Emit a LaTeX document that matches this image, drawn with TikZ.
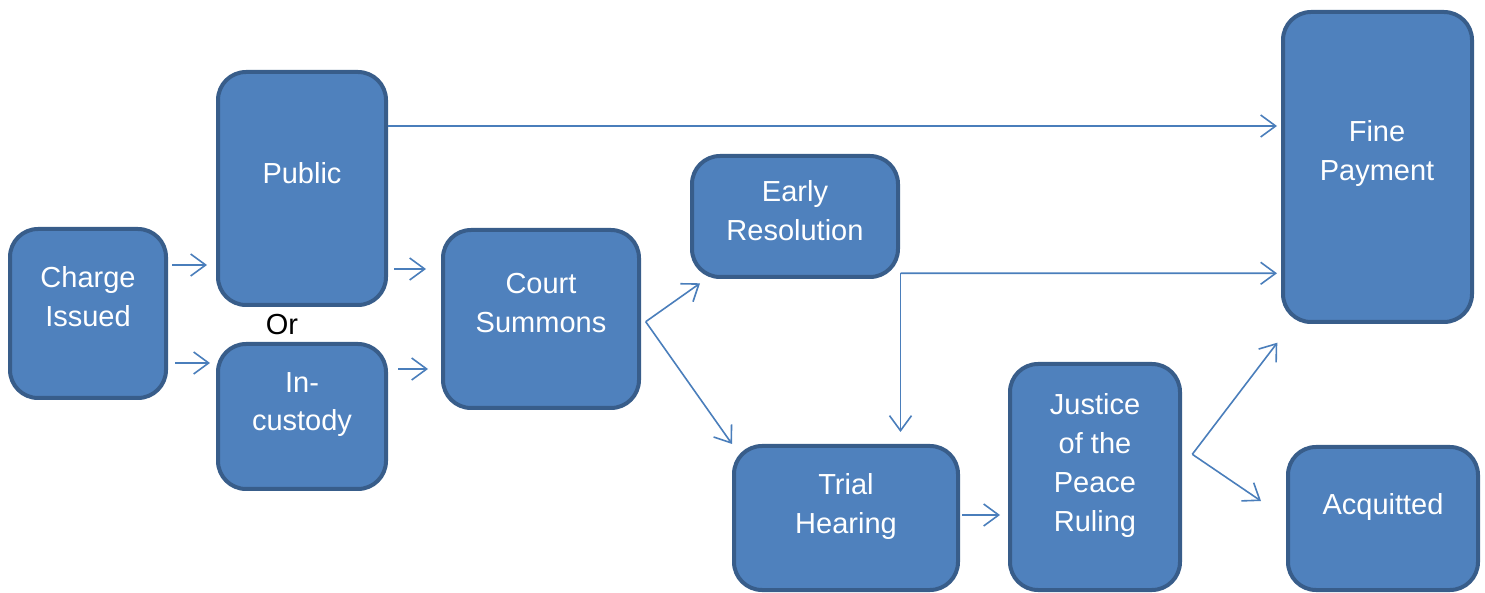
\documentclass[tikz,border=0pt]{standalone}
\usepackage{fontspec}
\setmainfont{Liberation Sans}
\usetikzlibrary{arrows.meta}
\definecolor{boxfill}{HTML}{4F81BD}
\definecolor{boxline}{HTML}{385D8A}
\definecolor{flowline}{HTML}{4A7EBB}

\begin{document}
\begin{tikzpicture}[x=0.5pt,y=-0.5pt,line join=bevel,
  box/.style={draw=boxline,fill=boxfill,line width=2pt,rounded corners=14pt,inner sep=0pt},
  boxtext/.style={text=white,align=center,anchor=base,font=\fontsize{14.5}{19.5}\selectfont},
  flow/.style={draw=flowline,line width=0.8pt,-{Straight Barb[length=7.5pt,width=11pt]}},]
%%
\useasboundingbox (0,0) rectangle (1485,593);
\node (node_charge) at (88,313.5) [box,minimum width=78pt,minimum height=84.5pt] {};
  \node (node_public) at (302,188.5) [box,minimum width=84pt,minimum height=116.5pt] {};
  \node (node_incustody) at (302,416.5) [box,minimum width=84pt,minimum height=72.5pt] {};
  \node (node_court) at (541,319) [box,minimum width=98pt,minimum height=89pt] {};
  \node (node_early) at (795,216.5) [box,minimum width=103pt,minimum height=60.5pt] {};
  \node (node_trial) at (846,518) [box,minimum width=112pt,minimum height=72pt] {};
  \node (node_justice) at (1095,477) [box,minimum width=85pt,minimum height=113pt] {};
  \node (node_fine) at (1377.5,167) [box,minimum width=94.5pt,minimum height=155pt] {};
  \node (node_acquitted) at (1383,518.5) [box,minimum width=95pt,minimum height=71.5pt] {};
%
  \node (text_charge) at (88,327) [boxtext] {Charge\\Issued};
  \node (text_public) at (302,184) [boxtext] {Public};
  \node (text_incustody) at (302,431) [boxtext] {In-\\custody};
  \node (text_court) at (541,333) [boxtext] {Court\\Summons};
  \node (text_early) at (795,241) [boxtext] {Early\\Resolution};
  \node (text_trial) at (846,533) [boxtext] {Trial\\Hearing};
  \node (text_justice) at (1095,531) [boxtext] {Justice\\of the\\Peace\\Ruling};
  \node (text_fine) at (1377,181) [boxtext] {Fine\\Payment};
  \node (text_acquitted) at (1383,515) [boxtext] {Acquitted};
  \node (text_or) at (282,335) [boxtext,text=black] {Or};
%
  \coordinate (split_court) at ([shift={(4.7,2.7)}]node_court.east);
  \coordinate (split_early) at ([shift={(0.5,-5.7)}]node_early.south east);
  \coordinate (split_justice) at ([shift={(10.3,-22.7)}]node_justice.east);
%
  \draw [flow] ([shift={(4,-48.5)}]node_charge.east) -- ([shift={(-9,76.5)}]node_public.west);
  \draw [flow] ([shift={(7,49.5)}]node_charge.east) -- ([shift={(-6,-53.5)}]node_incustody.west);
  \draw [flow] ([shift={(6,80.5)}]node_public.east) -- ([shift={(-15,-50)}]node_court.west);
  \draw [flow] ([shift={(10,-47.5)}]node_incustody.east) -- ([shift={(-13,50)}]node_court.west);
  \draw [flow] ([shift={(0,-62.5)}]node_public.east) -- ([shift={(-4,-41)}]node_fine.west);
  \draw [flow] (split_court) -- ([shift={(10,4.3)}]node_early.south west);
  \draw [flow] (split_court) -- (node_trial.north west);
  \draw [flow] (split_early) -- ([shift={(-4,106.3)}]node_fine.west);
  \draw [flow] (split_early) -- ([shift={(54.5,-12)}]node_trial.north);
  \draw [flow] ([shift={(2,-3)}]node_trial.east) -- ([shift={(-8,38)}]node_justice.west);
  \draw [flow] (split_justice) -- ([shift={(-3.7,18.7)}]node_fine.south west);
  \draw [flow] (split_justice) -- ([shift={(-25,-17.5)}]node_acquitted.west);
%
\end{tikzpicture}
\end{document}
